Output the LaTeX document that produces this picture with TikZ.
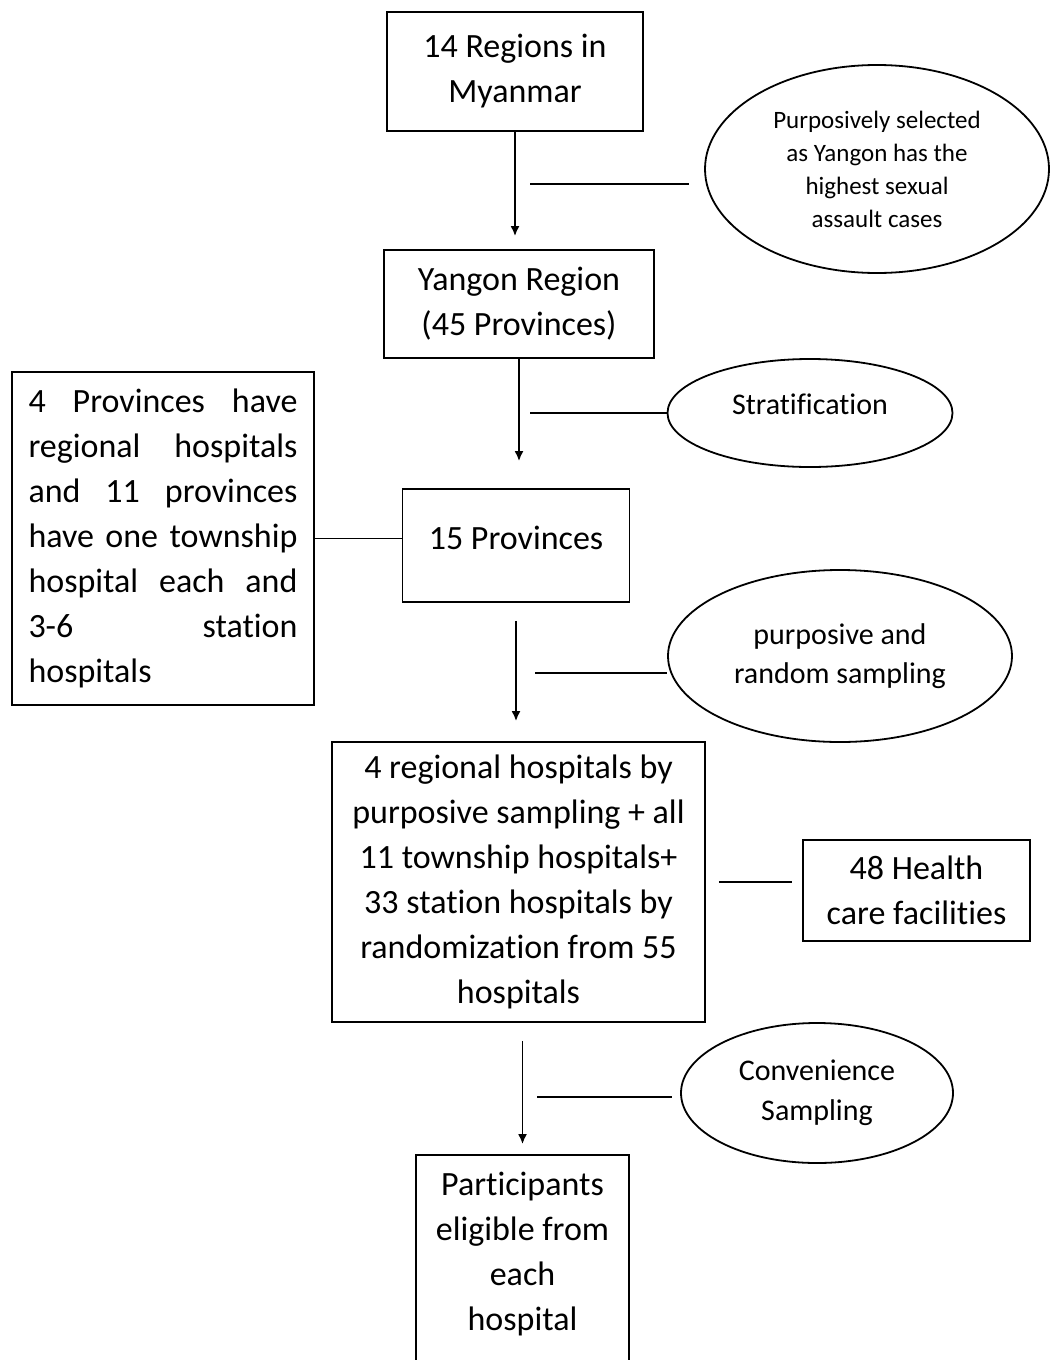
\documentclass[tikz,border=0pt]{standalone}
\usepackage{fontspec}
\setmainfont{Carlito}[RawFeature={-liga;-clig;-dlig;-calt}]
\usepackage{tikz}
\usetikzlibrary{calc}
\usetikzlibrary{arrows}
\usetikzlibrary{arrows.meta}
\usetikzlibrary{shapes}
\usetikzlibrary{shapes.geometric}

\tikzset{
  box/.style={rectangle, draw=black, line width=0.9pt, inner sep=0pt, align=center, font=\fontsize{17}{22.5}\selectfont},
  oval/.style={ellipse, draw=black, line width=0.9pt, inner sep=0pt, align=center, font=\fontsize{15}{20}\selectfont},
}
\newcommand{\jline}[1]{\hbox to 134.5pt{#1}}

\begin{document}
\begin{tikzpicture}[x=0.5pt, y=-0.5pt]
\useasboundingbox (0,0) rectangle (1050,1360);
\node [box, minimum width=128pt, minimum height=59.5pt] (R14) at (515, 71.5) {14 Regions in\\Myanmar};
\node [oval, minimum width=172pt, minimum height=104pt, font=\fontsize{12.5}{16.5}\selectfont] (sel) at (877, 169) {Purposively selected\\as Yangon has the\\highest sexual\\assault cases};
\node [box, minimum width=135pt, minimum height=54pt] (yangon) at (519, 304) {Yangon Region\\(45 Provinces)};
\node [oval, minimum width=142.5pt, minimum height=54pt, text depth=9pt] (strat) at (810, 413) {Stratification};
\node [box, minimum width=113.5pt, minimum height=56.5pt, text depth=8pt] (prov) at (516, 545.5) {15 Provinces};
\node [box, minimum width=151pt, minimum height=166.5pt, align=left] (L) at (163, 538.5) {\jline{4\hfill Provinces\hfill have}\\\jline{regional\hfill hospitals}\\\jline{and\hfill 11\hfill provinces}\\\jline{have\hfill one\hfill township}\\\jline{hospital\hfill each\hfill and}\\\jline{3-6\hfill station}\\\jline{hospitals\hfill}};
\node [oval, minimum width=172pt, minimum height=86pt, font=\fontsize{15}{19.5}\selectfont] (rand) at (840, 656) {purposive and\\random sampling};
\node [box, minimum width=186.5pt, minimum height=140pt] (hosp) at (518.5, 882) {4 regional hospitals by\\purposive sampling + all\\11 township hospitals+\\33 station hospitals by\\randomization from 55\\hospitals};
\node [box, minimum width=113.5pt, minimum height=50.5pt] (hc) at (916.5, 890.5) {48 Health\\care facilities};
\node [oval, minimum width=136pt, minimum height=70pt] (conv) at (817, 1093) {Convenience\\Sampling};
\node [box, minimum width=106.5pt, minimum height=112.5pt] (part) at (522.5, 1267.5) {};
\node [box, draw=none] (parttext) at (522.5, 1254) {Participants\\eligible from\\each\\hospital};
\coordinate (c1) at (530, 184);
\coordinate (c2) at (530, 413);
\coordinate (c3) at (535, 673);
\coordinate (c4) at (537, 1097);
\draw [-{Latex[length=5pt, width=4.5pt]}, draw = black, line width=0.9pt, shorten >=6.5pt] (R14.south) to (R14.south |- yangon.north);
\draw [-{Latex[length=5pt, width=4.5pt]}, draw = black, line width=0.9pt, shorten >=13.5pt] (yangon.south) to (yangon.south |- prov.north);
\draw [-{Latex[length=5pt, width=4.5pt]}, draw = black, line width=0.9pt, shorten <=9pt, shorten >=10pt] (prov.south) to (prov.south |- hosp.north);
\draw [-{Latex[length=5pt, width=4.5pt]}, draw = black, line width=0.9pt, shorten <=9pt, shorten >=5pt] (hosp.south -| part.north) to (part.north);
\draw [draw = black, line width=0.9pt, shorten >=7.5pt] (c1) to (c1 -| sel.west);
\draw [draw = black, line width=0.9pt] (c2) to (strat.west);
\draw [draw = black, line width=0.9pt] (c3) to (c3 -| rand.west);
\draw [draw = black, line width=0.9pt, shorten >=4pt] (c4) to (c4 -| conv.west);
\draw [draw = black, line width=0.9pt] (L.east) to (L.east -| prov.west);
\draw [draw = black, line width=0.9pt, shorten <=6.5pt, shorten >=5pt] (hosp.east) to (hosp.east -| hc.west);
\end{tikzpicture}
\end{document}
